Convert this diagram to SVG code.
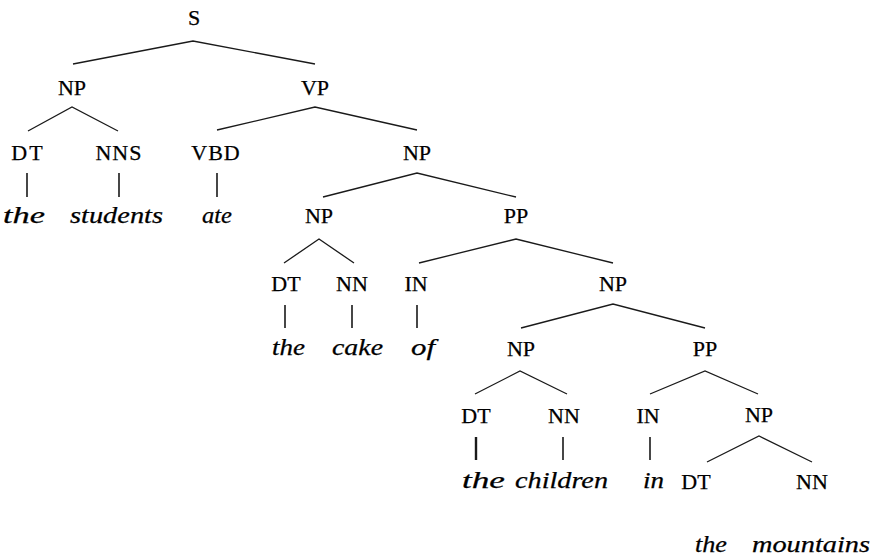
<svg xmlns="http://www.w3.org/2000/svg" width="875" height="559" viewBox="0 0 875 559">
<rect width="875" height="559" fill="#fff"/>
<g id="connectors" stroke="#1a1a1a" stroke-width="1.3" fill="none">
<path d="M73,64L193,41L315,64"/>
<path d="M28,131L72,107L118,131"/>
<path d="M217,130L315,107L417,130"/>
<path d="M323,197L417,173L516,197"/>
<path d="M284,263L319,239L354,263"/>
<path d="M419,263L516,239L613,263"/>
<path d="M521,328L613,304L705,328"/>
<path d="M475,394L520,371L567,394"/>
<path d="M650,394L705,371L758,394"/>
<path d="M707,462L759,436L812,462"/>
<path stroke-width="1.6" d="M27,173V197M119,173V197M217,173V197"/>
<path stroke-width="1.6" d="M285,305V328M352,305V328M417,305V328"/>
<path stroke-width="1.6" d="M563,437V460M650,437V460"/>
<path stroke-width="2.4" d="M476,437V460"/>
</g>
<g font-family="Liberation Serif, Times New Roman, serif" font-size="22" fill="#000" stroke="#000" stroke-width="0.25">
<g text-anchor="middle">
<g id="n-S"><text x="194" y="25">S</text></g>
<g id="n-NP1"><text x="72" y="95">NP</text></g>
<g id="n-VP"><text x="315" y="95">VP</text></g>
<g id="n-DT1"><text x="28" y="160" letter-spacing="2">DT</text></g>
<g id="n-NNS"><text x="119" y="160" letter-spacing="1">NNS</text></g>
<g id="n-VBD"><text x="216" y="160" letter-spacing="1">VBD</text></g>
<g id="n-NP2"><text x="417" y="160">NP</text></g>
<g id="n-NP3"><text x="319" y="223">NP</text></g>
<g id="n-PP1"><text x="516" y="223">PP</text></g>
<g id="n-DT2"><text x="286" y="291">DT</text></g>
<g id="n-NN1"><text x="352" y="291">NN</text></g>
<g id="n-IN1"><text x="416" y="291">IN</text></g>
<g id="n-NP4"><text x="613" y="291">NP</text></g>
<g id="n-NP5"><text x="521" y="356">NP</text></g>
<g id="n-PP2"><text x="705" y="356">PP</text></g>
<g id="n-DT3"><text x="476" y="423">DT</text></g>
<g id="n-NN2"><text x="564" y="423">NN</text></g>
<g id="n-IN2"><text x="648" y="423">IN</text></g>
<g id="n-NP6"><text x="759" y="422">NP</text></g>
<g id="n-DT4"><text x="696" y="489">DT</text></g>
<g id="n-NN3"><text x="812" y="489">NN</text></g>
</g>
<g font-style="italic" font-size="23">
<g id="w-the1"><text x="3" y="223" textLength="42" lengthAdjust="spacingAndGlyphs">the</text></g>
<g id="w-students"><text x="70" y="223" textLength="93" lengthAdjust="spacingAndGlyphs">students</text></g>
<g id="w-ate"><text x="202" y="223" textLength="30" lengthAdjust="spacingAndGlyphs">ate</text></g>
<g id="w-the2"><text x="272" y="355" textLength="33" lengthAdjust="spacingAndGlyphs">the</text></g>
<g id="w-cake"><text x="332" y="355" textLength="51" lengthAdjust="spacingAndGlyphs">cake</text></g>
<g id="w-of"><text x="411" y="355" textLength="24" lengthAdjust="spacingAndGlyphs">of</text></g>
<g id="w-the3"><text x="462" y="488" textLength="43" lengthAdjust="spacingAndGlyphs">the</text></g>
<g id="w-children"><text x="515" y="488" textLength="93" lengthAdjust="spacingAndGlyphs">children</text></g>
<g id="w-in"><text x="643" y="488" textLength="21" lengthAdjust="spacingAndGlyphs">in</text></g>
<g id="w-the4"><text x="695" y="552" textLength="32" lengthAdjust="spacingAndGlyphs">the</text></g>
<g id="w-mountains"><text x="752" y="552" textLength="118" lengthAdjust="spacingAndGlyphs">mountains</text></g>
</g>
</g>
</svg>
